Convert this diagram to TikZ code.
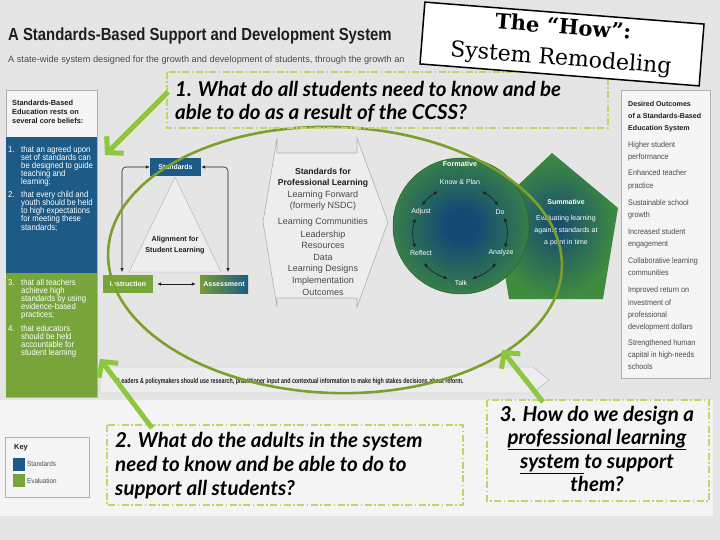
\documentclass[tikz,border=0pt]{standalone}
\usepackage{fontspec}
\setmainfont{Liberation Sans}
\newfontfamily\rep[FakeStretch=0.85]{Liberation Sans}
\newfontfamily\repn[FakeStretch=0.74]{Liberation Sans}
\newfontfamily\repr[FakeStretch=0.9]{Liberation Sans}
\newfontfamily\qf{Lato}
\newfontfamily\howf{DejaVu Serif}
\usetikzlibrary{arrows.meta,calc}
\definecolor{bgtop}{HTML}{E5E5E5}
\definecolor{bgbot}{HTML}{F4F4F4}
\definecolor{stdblue}{HTML}{1D5B86}
\definecolor{evgreen}{HTML}{78A53A}
\definecolor{limeg}{HTML}{8DC63F}
\definecolor{ellg}{HTML}{7C9F2E}
\definecolor{dashg}{HTML}{C2D468}
\definecolor{txtdark}{HTML}{1E1E1E}
\definecolor{txtgray}{HTML}{4A4A4A}
\definecolor{lineg}{HTML}{B0B0B0}
\definecolor{panelw}{HTML}{F5F5F5}
\definecolor{shapew}{HTML}{EDEDED}
\definecolor{fblue}{HTML}{154A74}
\definecolor{fgreen}{HTML}{3F8C3E}
\pgfdeclareradialshading{formshade}{\pgfpoint{0bp}{0bp}}{color(0bp)=(fblue); color(6bp)=(fblue); color(30bp)=(fgreen); color(50bp)=(fgreen)}
\tikzset{
  qbox/.style={draw=dashg, line width=1.3pt, dash pattern=on 7pt off 2.5pt on 1.5pt off 2.5pt},
  qtext/.style={font=\qf\bfseries\itshape\fontsize{20.5}{24}\selectfont, text=black, inner sep=0pt},
  bigarrow/.style={draw=limeg, line width=5pt, -{Straight Barb[length=11pt,width=24pt]}},
  hdr/.style={font=\bfseries\fontsize{7.4}{9}\selectfont, text=txtdark, inner sep=0pt, anchor=base west},
  lst/.style={font=\repr\fontsize{8.6}{9}\selectfont, text=white, inner sep=0pt, anchor=base west},
  rhdr/.style={font=\bfseries\fontsize{7.1}{9}\selectfont, text=txtdark, inner sep=0pt, anchor=base west},
  ritem/.style={font=\repr\fontsize{8}{9}\selectfont, text=txtgray, inner sep=0pt, anchor=base west},
  hexhd/.style={font=\bfseries\fontsize{8.6}{9}\selectfont, text=txtdark, inner sep=0pt, anchor=base},
  hexit/.style={font=\fontsize{9}{10}\selectfont, text=txtgray, inner sep=0pt, anchor=base},
  boxnode/.style={font=\bfseries\fontsize{7}{8}\selectfont, text=white, minimum height=18pt, inner sep=0pt},
  dbl/.style={{Latex[length=4pt,width=3.5pt]}-{Latex[length=4pt,width=3.5pt]}, draw=txtdark, line width=0.6pt},
  flab/.style={font=\fontsize{7}{9}\selectfont, text=white, inner sep=0pt},
}
\begin{document}
\begin{tikzpicture}[x=1pt,y=-1pt]
\useasboundingbox (0,0) rectangle (720,540);
\fill[bgtop] (0,0) rectangle (720,540);
\fill[bgbot] (0,400) rectangle (713,516);

% title
\node[anchor=base west, inner sep=0pt, text=txtdark, font=\rep\bfseries\fontsize{17.5}{20}\selectfont] (title) at (8,41) {A Standards-Based Support and Development System};
\node[anchor=base west, inner sep=0pt, text=txtgray, font=\fontsize{9.2}{12}\selectfont] (subtitle) at (8,63) {A state-wide system designed for the growth and development of students, through the growth an};

% left panel
\draw[lineg, fill=panelw] (6,90) rectangle (97,397);
\fill[stdblue] (6,137) rectangle (97,273);
\fill[evgreen] (6,273) rectangle (97,397);
\foreach \t [count=\i] in {Standards-Based, Education rests on, several core beliefs:}
  \node[hdr] (lh\i) at (12, 97+9*\i) {\t};
\node[lst] (n1) at (8,153) {1.};
\foreach \t [count=\i] in {that an agreed upon, set of standards can, be designed to guide, teaching and, learning;}
  \node[lst] (la\i) at (21, 145+8*\i) {\t};
\node[lst] (n2) at (8,198) {2.};
\foreach \t [count=\i] in {that every child and, youth should be held, to high expectations, for meeting these, standards;}
  \node[lst] (lb\i) at (21, 190+8*\i) {\t};
\node[lst] (n3) at (8,285) {3.};
\foreach \t [count=\i] in {that all teachers, achieve high, standards by using, evidence-based, practices;}
  \node[lst] (lc\i) at (21, 276.8+8.2*\i) {\t};
\node[lst] (n4) at (8,331) {4.};
\foreach \t [count=\i] in {that educators, should be held, accountable for, student learning}
  \node[lst] (ld\i) at (21, 322.7+8.3*\i) {\t};

% right panel
\draw[lineg, fill=panelw] (621,90) rectangle (710,378);
\foreach \t [count=\i] in {Desired Outcomes, of a Standards-Based, Education System}
  \node[rhdr] (rh\i) at (628, 95+12*\i) {\t};
\foreach \t/\y [count=\i] in {Higher student/148, performance/160, Enhanced teacher/176, practice/189, Sustainable school/206, growth/218, Increased student/235, engagement/247, Collaborative learning/263, communities/275, Improved return on/292, investment of/305, professional/317, development dollars/329, Strengthened human/345, capital in high-needs/357, schools/369}
  \node[ritem] (ri\i) at (628,\y) {\t};

% bottom arrow bar
\draw[lineg, fill=shapew] (100,367) -- (533,367) -- (549,380) -- (533,393) -- (100,393) -- cycle;
\node[anchor=base west, inner sep=0pt, text=txtdark, font=\repn\bfseries\fontsize{7.2}{8}\selectfont] (bar) at (118,383) {Leaders \& policymakers should use research, practitioner input and contextual information to make high stakes decisions about reform.};

% alignment triangle
\draw[lineg, fill=shapew] (175,177) -- (221,272) -- (129,272) -- cycle;
\node[font=\bfseries\fontsize{7.2}{11.5}\selectfont, text=txtdark, align=center, inner sep=0pt] (align) at (175,245) {Alignment for\\Student Learning};
\node[boxnode, fill=stdblue, minimum width=51pt] (std) at (175.5,167) {Standards};
\node[boxnode, fill=evgreen, minimum width=50pt] (instr) at (128,284) {Instruction};
\node[boxnode, left color=evgreen!95!black, right color=stdblue, minimum width=48pt] (assess) at (224,284) {Assessment};
\draw[dbl, rounded corners=4pt] (std.west) -| (122,272);
\draw[dbl, rounded corners=4pt] (std.east) -| (228,272);
\draw[dbl, shorten <=4pt, shorten >=4pt] (instr.east) -- (assess.west);

% hexagon
\draw[lineg, fill=shapew, line width=0.6pt] (277,138) -- (277,153) -- (357,153) -- (357,138) -- (388,222) -- (357,307) -- (357,298) -- (277,298) -- (277,307) -- (263,222) -- cycle;
\node[hexhd] (hx1) at (323,175) {Standards for};
\node[hexhd] (hx2) at (323,186) {Professional Learning};
\foreach \t/\y [count=\i] in {Learning Forward/197, (formerly NSDC)/208, Learning Communities/225, Leadership/237, Resources/248, Data/260, Learning Designs/271, Implementation/283, Outcomes/295}
  \node[hexit] (hy\i) at (323,\y) {\t};

% summative pentagon
\shade[inner color=fblue, outer color=fgreen] (552,153) -- (618,208) -- (603,299) -- (509,299) -- (494,208) -- cycle;

% formative circle
\shade[shading=formshade] (461,226) circle[radius=68];
\draw[fgreen!70!black, line width=0.5pt] (461,226) circle[radius=68];
\coordinate (cc) at (460,233);
\node[flab, font=\bfseries\fontsize{7.2}{9}\selectfont] (form) at (460,164) {Formative};
\node[flab] (kp) at (460,182) {Know \& Plan};
\node[flab] (do) at (500,212) {Do};
\node[flab] (adj) at (421,212) {Adjust};
\node[flab] (refl) at (421,253) {Reflect};
\node[flab] (ana) at (501,253) {Analyze};
\node[flab] (talk) at (461,283) {Talk};
\foreach \a/\b in {-62/-36, -19/18, 40/75, 105/140, -198/-162, -144/-118}
  \draw[dbl] ($(cc)+(\a:47)$) arc[start angle=\a, end angle=\b, radius=47];

% summative text (over the circle edge)
\node[font=\bfseries\fontsize{7}{9}\selectfont, text=white, inner sep=0pt] (sum) at (566,202) {Summative};
\node[font=\fontsize{7}{12}\selectfont, text=white, align=center, inner sep=0pt] (sumt) at (566,231) {Evaluating learning\\against standards at\\a point in time};

% big ellipse
\draw[ellg, line width=2.6pt, rotate around={-2:(335,260)}] (335,260) ellipse [x radius=227, y radius=133];

% key
\draw[lineg, fill=panelw] (5,437) rectangle (89,497);
\node[hdr] (key) at (14,449) {Key};
\fill[stdblue] (13,458) rectangle (25,471);
\fill[evgreen] (13,474) rectangle (25,487);
\node[ritem, font=\repr\fontsize{7}{8}\selectfont] (k1) at (27,466) {Standards};
\node[ritem, font=\repr\fontsize{7}{8}\selectfont] (k2) at (27,483) {Evaluation};

% questions
\draw[qbox] (167,72) rectangle (608,128);
\node[qtext, anchor=base west] (q1a) at (175,97) {1. What do all students need to know and be};
\node[qtext, anchor=base west] (q1b) at (175,120) {able to do as a result of the CCSS?};
\draw[qbox] (107,425) rectangle (463,505);
\node[qtext, anchor=base west] (q2a) at (115,447) {2. What do the adults in the system};
\node[qtext, anchor=base west] (q2b) at (115,471) {need to know and be able to do to};
\node[qtext, anchor=base west] (q2c) at (115,495) {support all students?};
\draw[qbox, fill=bgbot] (487,400) rectangle (709,501);
\node[qtext, anchor=base] (q3a) at (597,421) {3. How do we design a};
\node[qtext, anchor=base] (q3b) at (597,444) {\underline{professional learning}};
\node[qtext, anchor=base] (q3c) at (597,468) {\underline{system\ }to support};
\node[qtext, anchor=base] (q3d) at (597,491) {them?};

% green arrows
\coordinate (t1) at (168,92);  \coordinate (h1) at (105,155);
\coordinate (t2) at (152,428); \coordinate (h2) at (100,359);
\coordinate (t3) at (543,402); \coordinate (h3) at (502,350);
\draw[bigarrow] (t1) -- (h1);
\draw[bigarrow] (t2) -- (h2);
\draw[bigarrow] (t3) -- (h3);

% How box
\node[draw=black, line width=1.5pt, fill=white, minimum width=280pt, minimum height=62pt, rotate=-4.5, align=center, inner sep=0pt, font=\howf\fontsize{22}{31}\selectfont] (how) at (562,44) {{\bfseries\fontsize{21}{31}\selectfont The “How”:}\\System Remodeling};
\end{tikzpicture}
\end{document}
